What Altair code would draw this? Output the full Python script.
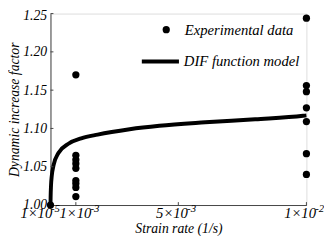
import altair as alt
import pandas as pd

# Experimental data (strain rate in 1/s, DIF)
exp_rate = [1e-5,
            1e-3, 1e-3, 1e-3, 1e-3, 1e-3, 1e-3, 1e-3, 1e-3, 1e-3,
            1e-2, 1e-2, 1e-2, 1e-2, 1e-2, 1e-2, 1e-2]
exp_dif = [1.000,
           1.170, 1.065, 1.059, 1.054, 1.048, 1.032, 1.028, 1.023, 1.011,
           1.244, 1.156, 1.148, 1.127, 1.109, 1.067, 1.040]

# DIF function model curve
model_rate = [1e-5, 1.5e-5, 3e-5, 6e-5, 1.3e-4, 3.2e-4, 7.1e-4, 1.21e-3,
              1.85e-3, 3.1e-3, 4.26e-3, 6.05e-3, 8e-3, 9.87e-3, 1e-2]
model_dif = [1.000, 1.010, 1.025, 1.038, 1.052, 1.068, 1.080, 1.087,
             1.092, 1.099, 1.1035, 1.108, 1.112, 1.1165, 1.117]

x_tick_values = [1e-5, 1e-3, 5e-3, 1e-2]
x_tick_mantissa = ["1×10", "1×10", "5×10", "1×10"]
x_tick_exponent = ["-5", "-3", "-3", "-2"]
y_tick_values = [1.00, 1.05, 1.10, 1.15, 1.20, 1.25]

W, H = 262, 196
FONT = "Liberation Serif"

exp_df = pd.DataFrame({"rate": exp_rate, "dif": exp_dif, "series": "Experimental data"})
model_df = pd.DataFrame({"rate": model_rate, "dif": model_dif, "series": "DIF function model"})
xt_df = pd.DataFrame({"rate": x_tick_values[1:]})
yt_df = pd.DataFrame({"dif": y_tick_values[1:]})
exp_lab_df = pd.DataFrame({"rate": x_tick_values, "exp": x_tick_exponent})

# label expression from the tick arrays
parts = []
for i in range(len(x_tick_values) - 1):
    mid = (x_tick_values[i] + x_tick_values[i + 1]) / 2
    parts.append(f"datum.value < {mid} ? '{x_tick_mantissa[i]}' : ")
label_expr = "".join(parts) + f"'{x_tick_mantissa[-1]}'"

xscale = alt.Scale(domain=[x_tick_values[0], x_tick_values[-1]], nice=False, zero=False)
yscale = alt.Scale(domain=[y_tick_values[0], y_tick_values[-1]], nice=False, zero=False)

x_axis = alt.Axis(values=x_tick_values, labelExpr=label_expr, ticks=False,
                  tickSize=0, grid=False, domainColor="#444444",
                  labelFont=FONT, labelFontStyle="italic", labelFontSize=15,
                  labelColor="black", labelPadding=1, labelFlush=False,
                  labelOverlap=False,
                  labelOffset={"condition": [
                      {"test": "datum.value < 0.0005", "value": -15},
                      {"test": "datum.value < 0.002", "value": -1}],
                      "value": -7},
                  titleFont=FONT, titleFontStyle="italic", titleFontSize=14,
                  titleFontWeight="normal", titleColor="black", titlePadding=1)
y_axis = alt.Axis(values=y_tick_values, format=".2f", ticks=False, tickSize=0,
                  grid=False, domainColor="#444444",
                  labelFont=FONT, labelFontStyle="italic", labelFontSize=14,
                  labelColor="black", labelPadding=4, labelOverlap=False,
                  labelFlush=False,
                  labelOffset={"condition": {"test": "datum.value > 1.24", "value": 2},
                               "value": 0},
                  titleFont=FONT, titleFontStyle="italic", titleFontSize=14,
                  titleFontWeight="normal", titleColor="black", titlePadding=1)


def xe():
    return alt.X("rate:Q", scale=xscale, title="Strain rate (1/s)", axis=x_axis)


def ye():
    return alt.Y("dif:Q", scale=yscale, title="Dynamic increase factor", axis=y_axis)


line = alt.Chart(model_df).mark_line(strokeWidth=4, interpolate="monotone").encode(
    x=xe(), y=ye(),
    color=alt.Color("series:N",
                    scale=alt.Scale(domain=["DIF function model"], range=["black"]),
                    legend=alt.Legend(orient="none", legendX=91.5, legendY=28, title=None,
                                      symbolType="stroke", symbolSize=1444,
                                      symbolStrokeWidth=4, symbolStrokeColor="black",
                                      labelOffset=3, padding=0,
                                      labelFont=FONT, labelFontStyle="italic",
                                      labelFontSize=15, labelColor="black", labelLimit=300)))

points = alt.Chart(exp_df).mark_point(filled=True, size=55, color="black", opacity=1).encode(
    x=xe(), y=ye(),
    shape=alt.Shape("series:N",
                    scale=alt.Scale(domain=["Experimental data"], range=["circle"]),
                    legend=alt.Legend(orient="none", legendX=111, legendY=9, title=None,
                                      symbolSize=55, symbolFillColor="black",
                                      symbolStrokeWidth=0, symbolOpacity=1,
                                      labelOffset=11.5, padding=0,
                                      labelFont=FONT, labelFontStyle="italic",
                                      labelFontSize=15, labelColor="black", labelLimit=300)))

xticks = alt.Chart(xt_df).mark_rule(color="#444444", strokeWidth=1).encode(
    x=xe(), y=alt.value(H), y2=alt.value(H - 3))
yticks = alt.Chart(yt_df).mark_rule(color="#444444", strokeWidth=1).encode(
    y=ye(), x=alt.value(0), x2=alt.value(3))

exp_style = dict(font=FONT, fontStyle="italic", fontSize=11, align="left",
                 baseline="alphabetic", color="black")
exp_first = alt.Chart(exp_lab_df).transform_filter("datum.rate < 0.0005").mark_text(
    dx=0.5, **exp_style).encode(x=xe(), y=alt.value(H + 7), text="exp:N")
exp_second = alt.Chart(exp_lab_df).transform_filter(
    "datum.rate >= 0.0005 && datum.rate < 0.002").mark_text(
    dx=15, **exp_style).encode(x=xe(), y=alt.value(H + 7), text="exp:N")
exp_rest = alt.Chart(exp_lab_df).transform_filter("datum.rate >= 0.002").mark_text(
    dx=9, **exp_style).encode(x=xe(), y=alt.value(H + 7), text="exp:N")

chart = alt.layer(line, points, xticks, yticks, exp_first, exp_second, exp_rest).resolve_scale(
    color="independent", shape="independent"
).properties(
    width=W, height=H,
    autosize=alt.AutoSizeParams(type="none"),
    padding={"left": 43.5, "top": 3, "right": 18, "bottom": 29},
).configure_view(stroke=None).configure(background="white")

chart.save("out.html", embed_options={"renderer": "svg", "actions": False})
